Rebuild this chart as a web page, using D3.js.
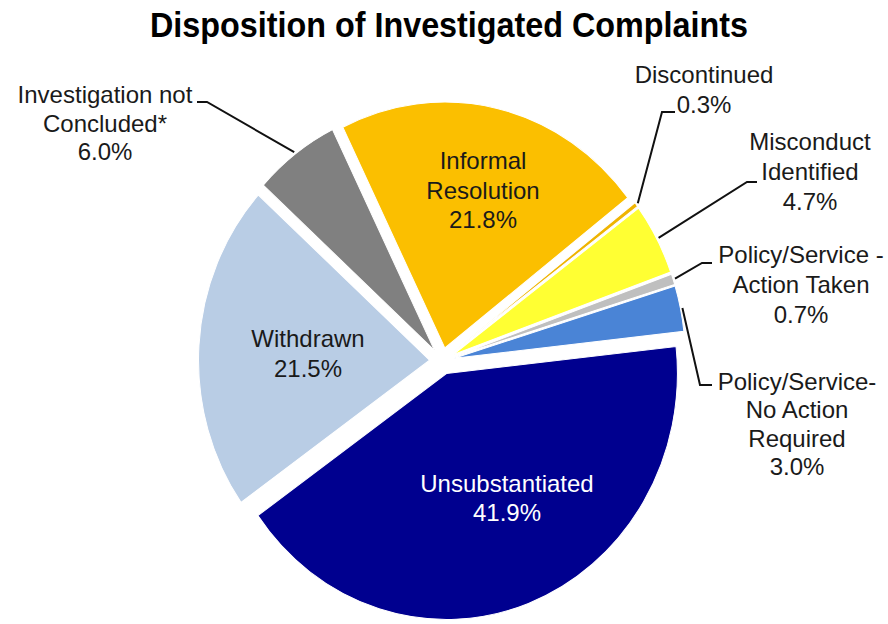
<!DOCTYPE html>
<html>
<head>
<meta charset="utf-8">
<script src="https://cdn.jsdelivr.net/npm/d3@7/dist/d3.min.js"></script>
<style>
  html, body { margin: 0; padding: 0; background: #fff; }
  svg text { font-family: Arial, "Liberation Sans", sans-serif; fill: #1a1a1a; }
</style>
</head>
<body>
<svg id="chart" width="888" height="624"></svg>
<script>
// data
var categories = [
    "Informal Resolution",
    "Discontinued",
    "Misconduct Identified",
    "Policy/Service - Action Taken",
    "Policy/Service- No Action Required",
    "Unsubstantiated",
    "Withdrawn",
    "Investigation not Concluded*"
];
var percents = [21.8, 0.3, 4.7, 0.7, 3.0, 41.9, 21.5, 6.0];
var labelLines = [
    ["Informal", "Resolution"],
    ["Discontinued"],
    ["Misconduct", "Identified"],
    ["Policy/Service -", "Action Taken"],
    ["Policy/Service-", "No Action", "Required"],
    ["Unsubstantiated"],
    ["Withdrawn"],
    ["Investigation not", "Concluded*"]
];
var colors = ["#FBBF00", "#EFB400", "#FFFF33", "#BFBFBF", "#4A84D6", "#00008F", "#B9CDE5", "#808080"];

// layout (label blocks + leader elbows), in pixels
var labelLayout = [
    { x: 483, y: 169, lh: 29.5 },
    { x: 704, y: 83, lh: 30, leader: [[662, 112], [675, 112]] },
    { x: 810, y: 150, lh: 30, leader: [[747, 182], [757, 182]] },
    { x: 801, y: 263, lh: 30, leader: [[702, 263], [712, 263]] },
    { x: 797, y: 390, lh: 28.4, leader: [[700, 385], [712, 385]] },
    { x: 507, y: 492, lh: 28.5, fill: "#ffffff" },
    { x: 308, y: 347, lh: 30 },
    { x: 105, y: 103, lh: 28.5, leader: [[207, 102], [197, 102]] }
];

var data = categories.map(function (c, i) {
    return { key: c, value: percents[i], color: colors[i], lines: labelLines[i], layout: labelLayout[i] };
});

var svg = d3.select("#chart");
var cx = 442, cy = 361, radius = 231, explode = 12.5, stretchY = 1.065;
var deg = Math.PI / 180;

// title
svg.append("text")
    .attr("x", 449).attr("y", 37)
    .attr("text-anchor", "middle")
    .attr("font-size", 35)
    .attr("font-weight", "bold")
    .attr("textLength", 598)
    .attr("lengthAdjust", "spacingAndGlyphs")
    .style("fill", "#000")
    .text("Disposition of Investigated Complaints");

var pie = d3.pie()
    .sort(null)
    .value(function (d) { return d.value; })
    .startAngle(-26.2 * deg)
    .endAngle(333.8 * deg);

var arc = d3.arc().innerRadius(0).outerRadius(radius);

var arcs = pie(data);

var root = svg.append("g")
    .attr("transform", "translate(" + cx + "," + cy + ") scale(1," + stretchY + ")");

root.selectAll("path.slice")
    .data(arcs)
    .enter()
    .append("path")
    .attr("class", "slice")
    .attr("fill", function (d) { return d.data.color; })
    .attr("stroke", "#fff")
    .attr("stroke-width", 1)
    .attr("transform", function (d) {
        var m = (d.startAngle + d.endAngle) / 2;
        return "translate(" + (explode * Math.sin(m)) + "," + (-explode * Math.cos(m)) + ")";
    })
    .attr("d", arc);

// point on the slice rim at its mid angle, in page coordinates
var rimPoint = function (d, extra) {
    var m = (d.startAngle + d.endAngle) / 2;
    var r = radius + explode + extra;
    return [cx + r * Math.sin(m), cy - r * Math.cos(m) * stretchY];
};

// leader lines
arcs.forEach(function (d) {
    var L = d.data.layout;
    if (!L.leader) return;
    var pts = [rimPoint(d, 2)].concat(L.leader);
    svg.append("path")
        .attr("d", d3.line()(pts))
        .attr("fill", "none")
        .attr("stroke", "#111")
        .attr("stroke-width", 2);
});

// labels
arcs.forEach(function (d) {
    var L = d.data.layout;
    var lines = d.data.lines.concat([d.data.value.toFixed(1) + "%"]);
    var t = svg.append("text")
        .attr("text-anchor", "middle")
        .attr("font-size", 24)
        .style("fill", L.fill || "#1a1a1a");
    lines.forEach(function (s, i) {
        t.append("tspan")
            .attr("x", L.x)
            .attr("y", L.y + i * L.lh)
            .text(s);
    });
});
</script>
</body>
</html>
